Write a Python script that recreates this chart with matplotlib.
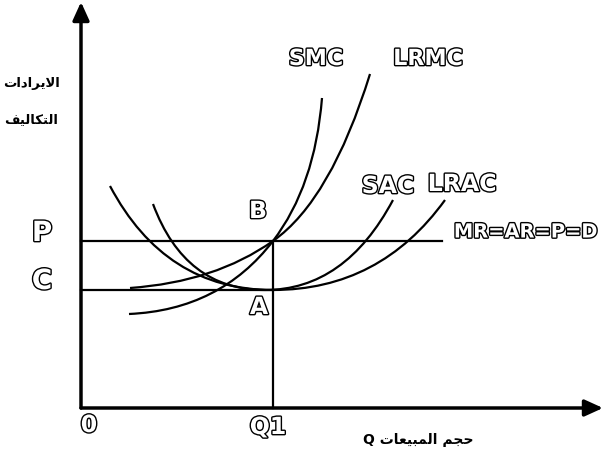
import numpy as np
import matplotlib
matplotlib.use("Agg")
import matplotlib.pyplot as plt
from matplotlib.path import Path
from matplotlib.patches import PathPatch
import matplotlib.patheffects as pe

# price / cost levels and output
P_level = 167
C_level = 118
Q1 = 192
D_end = 361

# curves: start, control, knot, control, end (quadratic bezier pieces)
smc_pts = [(48, 94), (139, 98), (192, 167), (234, 222), (241, 310)]
lrmc_pts = [(49, 120), (134, 126), (192, 167), (250, 208), (289, 334)]
lrac_pts = [(29, 222), (84, 118), (192, 118), (299, 118), (364, 208)]
sac_pts = [(72, 204), (104, 118), (184, 118), (264, 118), (312, 208)]

# Arabic labels in presentation forms, visual order
y_title_1 = "\ufe95\ufe8d\ufea9\ufe8d\ufeae\ufef3\ufefb\ufe8d"
y_title_2 = "\ufed2\ufef4\ufedf\ufe8e\ufedc\ufe98\ufedf\ufe8d"
x_title = "Q " + "\ufe95\ufe8e\ufecc\ufef4\ufe92\ufee4\ufedf\ufe8d" + " " + "\ufee2\ufea0\ufea3"

fig = plt.figure(figsize=(6.04, 4.68), dpi=100)
ax = fig.add_axes([0, 0, 1, 1])
ax.set_xlim(-81, 523)
ax.set_ylim(-60, 408)
ax.axis("off")

# axes with arrows
ax.annotate("", xy=(0, 406), xytext=(0, 0),
            arrowprops=dict(arrowstyle="-|>,head_length=1.1,head_width=0.5", lw=2.5, color="black", shrinkA=0, shrinkB=0))
ax.annotate("", xy=(522, 0), xytext=(0, 0),
            arrowprops=dict(arrowstyle="-|>,head_length=1.1,head_width=0.5", lw=2.5, color="black", shrinkA=0, shrinkB=0))

# demand / price line, cost line and Q1
ax.plot([0, D_end], [P_level, P_level], color="black", lw=1.6)
ax.plot([0, Q1], [C_level, C_level], color="black", lw=1.6)
ax.plot([Q1, Q1], [0, P_level], color="black", lw=1.6)

codes = [Path.MOVETO, Path.CURVE3, Path.CURVE3, Path.CURVE3, Path.CURVE3]
for pts in [smc_pts, lrmc_pts, lrac_pts, sac_pts]:
    ax.add_patch(PathPatch(Path(pts, codes), fill=False, lw=1.6, edgecolor="black"))

hollow = [pe.withStroke(linewidth=2.0, foreground="black")]


def label(x, y, s, size=17):
    ax.text(x, y, s, fontsize=size, fontweight="bold", family=["DejaVu Sans"],
            color="white", ha="center", va="center", path_effects=hollow)


label(235, 349, "SMC", 16)
label(347, 349, "LRMC", 16)
label(307, 222, "SAC")
label(381, 224, "LRAC")
label(445, 176, "MR=AR=P=D", 14)
label(-39, 175, "P", 20)
label(-39, 127, "C", 20)
label(177, 197, "B")
label(178, 101, "A")
label(8, -17, "0")
label(187, -19, "Q1")

ax.text(-50, 324, y_title_1, fontsize=9.5, fontweight="bold", family=["DejaVu Sans"],
        ha="center", va="center")
ax.text(-50, 288, y_title_2, fontsize=9.5, fontweight="bold", family=["DejaVu Sans"],
        ha="center", va="center")
ax.text(337, -32, x_title, fontsize=10, fontweight="bold", family=["DejaVu Sans"],
        ha="center", va="center")

fig.savefig("out.png", dpi=100)
